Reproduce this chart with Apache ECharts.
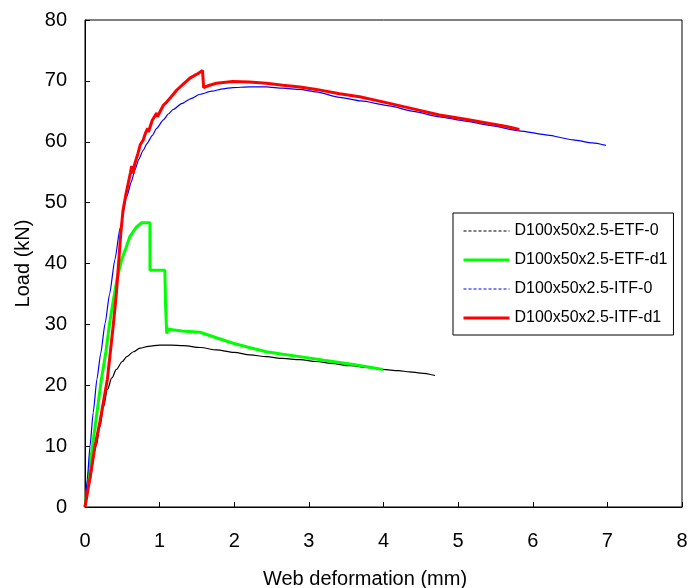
<!DOCTYPE html>
<html>
<head>
<meta charset="utf-8">
<script src="https://cdn.jsdelivr.net/npm/echarts@6/dist/echarts.min.js"></script>
<style>
  html, body { margin: 0; padding: 0; background: #fff; }
  #chart { width: 690px; height: 588px; }
</style>
</head>
<body>
<div id="chart"></div>
<script>
// Load–web deformation curves for D100x50x2.5 specimens
const seriesNames = [
  'D100x50x2.5-ETF-0',
  'D100x50x2.5-ETF-d1',
  'D100x50x2.5-ITF-0',
  'D100x50x2.5-ITF-d1'
];

// ETF-0 (mm, kN)
const etf0X = [0, 0.05, 0.15, 0.2, 0.25, 0.3, 0.36, 0.42, 0.5, 0.56, 0.65, 0.736, 0.85, 1.0, 1.15, 1.32, 1.55, 1.76, 2.0, 2.21, 2.43, 2.65, 2.88, 3.1, 3.3, 3.55, 3.8, 3.99, 4.2, 4.35, 4.5, 4.69];
const etf0Y = [0, 3.5, 10, 13.2, 16.5, 19.3, 21.2, 22.6, 23.9, 24.7, 25.5, 26.1, 26.4, 26.6, 26.6, 26.5, 26.2, 25.8, 25.4, 25.0, 24.7, 24.4, 24.2, 23.9, 23.6, 23.2, 22.9, 22.6, 22.4, 22.2, 22.0, 21.6];

// ETF-d1
const etfd1X = [0, 0.05, 0.10, 0.16, 0.22, 0.28, 0.33, 0.38, 0.43, 0.49, 0.55, 0.60, 0.65, 0.69, 0.76, 0.87, 0.871, 1.07, 1.08, 1.095, 1.115, 1.3, 1.54, 1.76, 1.985, 2.2, 2.43, 2.65, 2.88, 3.2, 3.55, 3.8, 3.99];
const etfd1Y = [0, 5, 10, 15.5, 21, 25.5, 30.2, 34, 37.5, 40.6, 42.6, 44.4, 45.3, 46.0, 46.7, 46.7, 38.9, 38.9, 33, 28.5, 29.2, 28.9, 28.7, 27.8, 26.9, 26.2, 25.5, 25.1, 24.7, 24.1, 23.5, 23.0, 22.6];

// ITF-0
const itf0X = [0, 0.03, 0.067, 0.11, 0.16, 0.21, 0.27, 0.33, 0.40, 0.47, 0.56, 0.62, 0.67, 0.72, 0.78, 0.83, 0.9, 0.96, 1.05, 1.12, 1.18, 1.3, 1.42, 1.54, 1.7, 1.85, 1.98, 2.2, 2.43, 2.65, 2.88, 3.1, 3.41, 3.7, 4.08, 4.4, 4.75, 5.1, 5.42, 5.82, 6.2, 6.54, 6.8, 6.98];
const itf0Y = [0, 4.5, 10, 15.5, 21, 25.2, 30.2, 35.0, 40.6, 45.8, 51.0, 53.4, 55.4, 57.1, 58.6, 59.7, 61.0, 62.2, 63.6, 64.6, 65.3, 66.3, 67.1, 67.8, 68.3, 68.7, 68.9, 69.0, 69.0, 68.8, 68.6, 68.2, 67.3, 66.7, 65.9, 65.0, 64.1, 63.4, 62.7, 61.8, 61.1, 60.3, 59.8, 59.4];

// ITF-d1
const itfd1X = [0, 0.07, 0.134, 0.2, 0.25, 0.3, 0.34, 0.38, 0.42, 0.45, 0.48, 0.51, 0.55, 0.58, 0.61, 0.625, 0.645, 0.665, 0.71, 0.74, 0.78, 0.81, 0.84, 0.85, 0.9, 0.96, 0.97, 1.05, 1.1, 1.15, 1.23, 1.32, 1.41, 1.5, 1.575, 1.59, 1.65, 1.76, 1.98, 2.2, 2.43, 2.65, 2.88, 3.1, 3.41, 3.68, 4.08, 4.4, 4.75, 5.1, 5.42, 5.65, 5.82];
const itfd1Y = [0, 5, 10, 14, 17.5, 21, 25.5, 30, 35, 40, 45, 48.8, 51.5, 53.2, 55, 56, 54.8, 56.3, 58.1, 59.5, 60.3, 61.4, 62.2, 61.6, 63.5, 64.7, 64.1, 66, 66.6, 67.3, 68.5, 69.5, 70.5, 71.1, 71.7, 68.9, 69.2, 69.6, 69.9, 69.8, 69.6, 69.3, 69.0, 68.6, 67.9, 67.4, 66.3, 65.4, 64.4, 63.7, 63.0, 62.5, 62.0];

const seriesColors = ['#000000', '#00ff00', '#0000ff', '#ff0000'];
const seriesWidths = [1.2, 3, 1.2, 3];
const legendDash = [[3, 2], 'solid', [3, 2], 'solid'];
const seriesSmooth = [0.3, false, 0.2, false];

const xs = [etf0X, etfd1X, itf0X, itfd1X];
const ys = [etf0Y, etfd1Y, itf0Y, itfd1Y];

const FONT = '"Liberation Sans", Arial, sans-serif';

const chart = echarts.init(document.getElementById('chart'), null, { renderer: 'canvas' });

chart.setOption({
  backgroundColor: '#fff',
  animation: false,
  grid: {
    left: 85, right: 8, top: 20, bottom: 81,
    outerBoundsMode: 'none',
    show: true, borderColor: '#000', borderWidth: 1
  },
  legend: {
    show: true,
    orient: 'vertical',
    left: 453, top: 213,
    padding: [10, 6, 9, 9],
    itemGap: 13,
    itemWidth: 46, itemHeight: 14,
    borderColor: '#000', borderWidth: 1,
    backgroundColor: '#fff',
    textStyle: { fontFamily: FONT, fontSize: 16, color: '#000' },
    data: seriesNames.map((n, i) => ({
      name: n,
      itemStyle: { opacity: 0 },
      lineStyle: { type: legendDash[i], width: seriesWidths[i] > 2 ? 3 : 1, color: seriesColors[i], opacity: 1 }
    }))
  },
  xAxis: {
    type: 'value', min: 0, max: 8, interval: 1,
    name: 'Web deformation (mm)',
    nameLocation: 'middle', nameGap: 62,
    nameTextStyle: { fontFamily: FONT, fontSize: 20, color: '#000', padding: [0, 37, 0, 0] },
    axisLine: { show: true, lineStyle: { color: '#000', width: 1 } },
    axisTick: { show: true, inside: true, length: 5, lineStyle: { color: '#000' } },
    axisLabel: { fontFamily: FONT, fontSize: 20, color: '#000', margin: 24 },
    splitLine: { show: false }
  },
  yAxis: {
    type: 'value', min: 0, max: 80, interval: 10,
    name: 'Load (kN)',
    nameLocation: 'middle', nameGap: 52,
    nameTextStyle: { fontFamily: FONT, fontSize: 20, color: '#000' },
    axisLine: { show: true, lineStyle: { color: '#000', width: 1 } },
    axisTick: { show: true, inside: true, length: 5, lineStyle: { color: '#000' } },
    axisLabel: { fontFamily: FONT, fontSize: 20, color: '#000', margin: 18 },
    splitLine: { show: false }
  },
  series: seriesNames.map((n, i) => ({
    name: n,
    type: 'line',
    symbol: 'none',
    smooth: seriesSmooth[i],
    smoothMonotone: 'x',
    data: xs[i].map((x, k) => [x, ys[i][k]]),
    lineStyle: { color: seriesColors[i], width: seriesWidths[i] },
    itemStyle: { color: seriesColors[i] }
  }))
});
</script>
</body>
</html>
